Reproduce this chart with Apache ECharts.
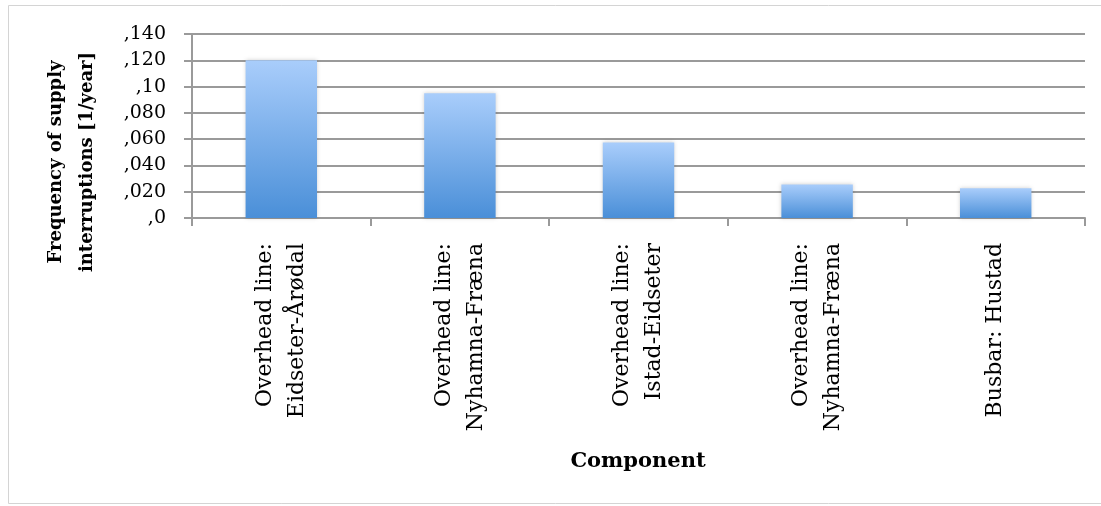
<!DOCTYPE html>
<html>
<head>
<meta charset="utf-8">
<script src="https://cdn.jsdelivr.net/npm/echarts@6/dist/echarts.min.js"></script>
<style>
html,body{margin:0;padding:0;background:#fff;}
#chart{width:1101px;height:506px;}
</style>
</head>
<body>
<div id="chart"></div>
<script>
const categories = [
  "Overhead line:\nEidseter-Årødal",
  "Overhead line:\nNyhamna-Fræna",
  "Overhead line:\nIstad-Eidseter",
  "Overhead line:\nNyhamna-Fræna",
  "Busbar: Hustad"
];
const values = [0.120, 0.095, 0.0575, 0.0255, 0.0226];
const yTickLabels = [",0", ",020", ",040", ",060", ",080", ",10", ",120", ",140"];
const yTitle = "Frequency of supply\ninterruptions [1/year]";
const xTitle = "Component";

const chart = echarts.init(document.getElementById('chart'), null, {renderer: 'canvas'});
const gridColor = '#9a9a9a';
const option = {
  animation: false,
  backgroundColor: '#ffffff',
  grid: {left: 192, right: 16, top: 34, height: 184, containLabel: false},
  graphic: [
    {type: 'rect', z: -10, shape: {x: 8.5, y: 5.5, width: 1110, height: 498},
     style: {fill: 'none', stroke: '#d4d4d4', lineWidth: 1}},
    {type: 'text', x: 72, y: 162, rotation: Math.PI / 2,
     style: {text: yTitle, fill: '#000', font: 'bold 18px "DejaVu Serif"',
             align: 'center', verticalAlign: 'middle', lineHeight: 31}},
    {type: 'text', x: 638, y: 462,
     style: {text: xTitle, fill: '#000', font: 'bold 21px "DejaVu Serif"',
             align: 'center', verticalAlign: 'middle'}}
  ],
  xAxis: {
    type: 'category',
    data: categories,
    axisLine: {lineStyle: {color: gridColor, width: 2}},
    axisTick: {show: true, length: 8, lineStyle: {color: gridColor, width: 2}},
    axisLabel: {rotate: 90, margin: 25, interval: 0, color: '#000', align: 'right',
                fontFamily: 'DejaVu Serif', fontSize: 22, lineHeight: 32,
                formatter: function (v) {
                  return v.split('\n').map(function (s) { return '{r|' + s + '}'; }).join('\n');
                },
                rich: {r: {align: 'right', fontFamily: 'DejaVu Serif', fontSize: 22,
                           lineHeight: 32, color: '#000'}}}
  },
  yAxis: {
    type: 'value',
    min: 0, max: 0.14, interval: 0.02,
    axisLine: {show: true, lineStyle: {color: gridColor, width: 2}},
    axisTick: {show: true, length: 8, lineStyle: {color: gridColor, width: 2}},
    splitLine: {show: true, lineStyle: {color: gridColor, width: 2}},
    axisLabel: {margin: 26, color: '#000', fontFamily: 'DejaVu Serif', fontSize: 19,
                formatter: function (v) { return yTickLabels[Math.round(v / 0.02)]; }}
  },
  series: [{
    type: 'bar',
    data: values,
    barWidth: '40%',
    itemStyle: {
      color: new echarts.graphic.LinearGradient(0, 0, 0, 1, [
        {offset: 0, color: '#a9cdfb'},
        {offset: 1, color: '#4a8fd8'}
      ]),
      shadowColor: 'rgba(0,0,0,0.18)', shadowBlur: 4
    }
  }]
};
chart.setOption(option);
</script>
</body>
</html>
